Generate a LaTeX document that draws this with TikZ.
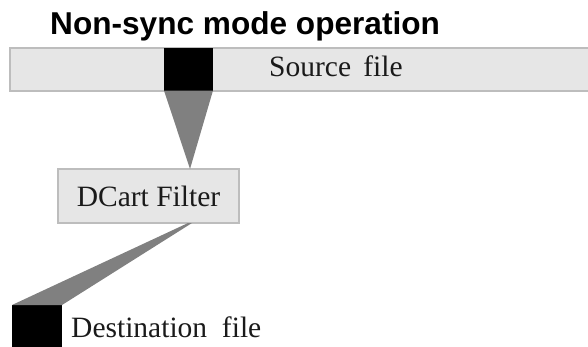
\documentclass[tikz,border=0pt]{standalone}
\usepackage{fontspec}
\setmainfont{Liberation Serif}
\newfontfamily\titlefont{Liberation Sans}
\definecolor{boxfill}{HTML}{E6E6E6}
\definecolor{boxline}{HTML}{BDBDBD}
\definecolor{wedge}{HTML}{808080}
\definecolor{ink}{HTML}{1A1A1A}
\begin{document}
\begin{tikzpicture}[x=1pt,y=1pt,
  panel/.style={fill=boxfill,draw=boxline,line width=1.2pt,inner sep=0pt,outer sep=0pt},
  blk/.style={fill=black,inner sep=0pt,outer sep=0pt},
  lbl/.style={text=ink,font=\fontsize{29.5}{34}\selectfont,inner sep=0pt},
  flow/.style={fill=wedge}]
\useasboundingbox (0,0) rectangle (588,-346);
% title
\node[anchor=base west,inner sep=0pt,font=\titlefont\bfseries\fontsize{31.6}{36}\selectfont] (title) at (50,-34) {Non-sync mode operation};
% source bar
\node[panel,minimum width=590pt,minimum height=43pt,anchor=north west] (src) at (10,-48) {};
\node[blk,minimum width=49pt,minimum height=42.5pt,anchor=north west] (srcblk) at (164,-48) {};
\node[lbl,anchor=base west] (srclbl) at (269,-76) {Source\ \,file};
% filter
\node[panel,minimum width=181pt,minimum height=54pt,lbl,text=ink] (filter) at (148.5,-196) {DCart Filter};
\coordinate (tipin) at ([xshift=41.5pt]filter.north);
\coordinate (tipout) at ([xshift=41.5pt]filter.south);
% destination
\node[blk,minimum width=50pt,minimum height=45pt,anchor=north west] (dst) at (12,-305) {};
\node[lbl,anchor=base west] (dstlbl) at (71,-337) {Destination\ \ file};
% flows
\fill[flow] (srcblk.south west) -- (srcblk.south east) -- (tipin) -- cycle;
\fill[flow] ([xshift=-2pt]tipout) -- ([xshift=2pt]tipout) -- (dst.north east) -- (dst.north west) -- cycle;
\end{tikzpicture}
\end{document}
